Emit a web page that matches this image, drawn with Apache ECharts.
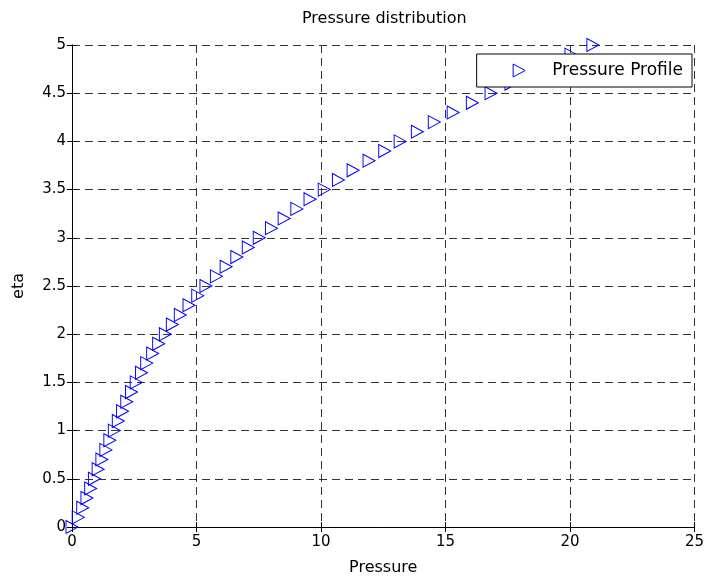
<!DOCTYPE html>
<html>
<head>
<meta charset="utf-8">
<script src="https://cdn.jsdelivr.net/npm/echarts@6/dist/echarts.min.js"></script>
<style>
    html, body { margin: 0; padding: 0; background: #fff; }
    #chart { width: 707px; height: 581px; }
</style>
</head>
<body>
<div id="chart"></div>
<script>
// eta values (y) and the pressure read for each one (x)
let etaValues = [0.0, 0.1, 0.2, 0.3, 0.4, 0.5, 0.6, 0.7, 0.8, 0.9,
    1.0, 1.1, 1.2, 1.3, 1.4, 1.5, 1.6, 1.7, 1.8, 1.9,
    2.0, 2.1, 2.2, 2.3, 2.4, 2.5, 2.6, 2.7, 2.8, 2.9,
    3.0, 3.1, 3.2, 3.3, 3.4, 3.5, 3.6, 3.7, 3.8, 3.9,
    4.0, 4.1, 4.2, 4.3, 4.4, 4.5, 4.6, 4.7, 4.8, 4.9, 5.0];
let pressureValues = [0.0, 0.25, 0.43, 0.6, 0.75, 0.9, 1.05, 1.2, 1.36, 1.52,
    1.7, 1.86, 2.03, 2.2, 2.39, 2.58, 2.79, 3.0, 3.24, 3.48,
    3.75, 4.03, 4.35, 4.7, 5.05, 5.38, 5.8, 6.19, 6.62, 7.08,
    7.52, 8.01, 8.52, 9.03, 9.56, 10.13, 10.7, 11.29, 11.93, 12.56,
    13.18, 13.87, 14.55, 15.31, 16.08, 16.83, 17.63, 18.42, 19.22, 20.04, 20.92];
let xTicks = [0, 5, 10, 15, 20, 25];
let yTicks = [0, 0.5, 1, 1.5, 2, 2.5, 3, 3.5, 4, 4.5, 5];

let fontName = 'DejaVu Sans';
let points = [];
for (let i = 0; i < etaValues.length; i++) {
    points.push([pressureValues[i], etaValues[i]]);
}

let myChart = echarts.init(document.getElementById('chart'));

let dashGrid = {show: true, lineStyle: {color: '#333', width: 1, type: [8, 5]}};
let frameLine = {show: true, lineStyle: {color: '#000', width: 1}};
let innerTick = {show: true, inside: true, length: 5, lineStyle: {color: '#000'}};
// right-pointing triangle, same shape as the plotted markers
let rightTriangle = 'path://M0,0 L12,6.5 L0,13 Z';

let option = {
    animation: false,
    backgroundColor: '#fff',
    title: {
        text: 'Pressure distribution',
        left: 297,
        top: 6,
        textStyle: {fontFamily: fontName, fontSize: 16, fontWeight: 'normal', color: '#000'}
    },
    legend: {
        data: [{name: 'Pressure Profile', icon: rightTriangle}],
        right: 15,
        top: 54,
        padding: [8, 9, 8, 36],
        backgroundColor: '#fff',
        borderColor: '#000',
        borderWidth: 1,
        borderRadius: 0,
        itemWidth: 12,
        itemHeight: 13,
        itemStyle: {color: 'rgba(0,0,0,0)', borderColor: '#0000ff', borderWidth: 1},
        textStyle: {fontFamily: fontName, fontSize: 17, color: '#000', padding: [0, 0, 0, 22]}
    },
    grid: {left: 72, right: 7, top: 45, bottom: 50},
    xAxis: [{
        type: 'value',
        min: xTicks[0],
        max: xTicks[xTicks.length - 1],
        interval: 5,
        position: 'bottom',
        name: 'Pressure',
        nameLocation: 'middle',
        nameGap: 33,
        nameTextStyle: {fontFamily: fontName, fontSize: 16, color: '#000'},
        axisLine: frameLine,
        axisTick: innerTick,
        axisLabel: {fontFamily: fontName, fontSize: 15, color: '#000', margin: 8},
        splitLine: dashGrid
    }, {
        type: 'value',
        min: xTicks[0],
        max: xTicks[xTicks.length - 1],
        interval: 5,
        position: 'top',
        axisLine: frameLine,
        axisTick: innerTick,
        axisLabel: {show: false},
        splitLine: {show: false}
    }],
    yAxis: [{
        type: 'value',
        min: yTicks[0],
        max: yTicks[yTicks.length - 1],
        interval: 0.5,
        position: 'left',
        name: 'eta',
        nameLocation: 'middle',
        nameGap: 45,
        nameTextStyle: {fontFamily: fontName, fontSize: 16, color: '#000'},
        axisLine: frameLine,
        axisTick: innerTick,
        axisLabel: {fontFamily: fontName, fontSize: 15, color: '#000', margin: 6},
        splitLine: dashGrid
    }, {
        type: 'value',
        min: yTicks[0],
        max: yTicks[yTicks.length - 1],
        interval: 0.5,
        position: 'right',
        axisLine: frameLine,
        axisTick: innerTick,
        axisLabel: {show: false},
        splitLine: {show: false}
    }],
    series: [{
        name: 'Pressure Profile',
        type: 'scatter',
        xAxisIndex: 0,
        yAxisIndex: 0,
        clip: false,
        symbol: rightTriangle,
        symbolSize: [12, 13],
        itemStyle: {color: 'rgba(0,0,0,0)', borderColor: '#0000ff', borderWidth: 1, opacity: 1},
        data: points
    }]
};

myChart.setOption(option);
</script>
</body>
</html>
